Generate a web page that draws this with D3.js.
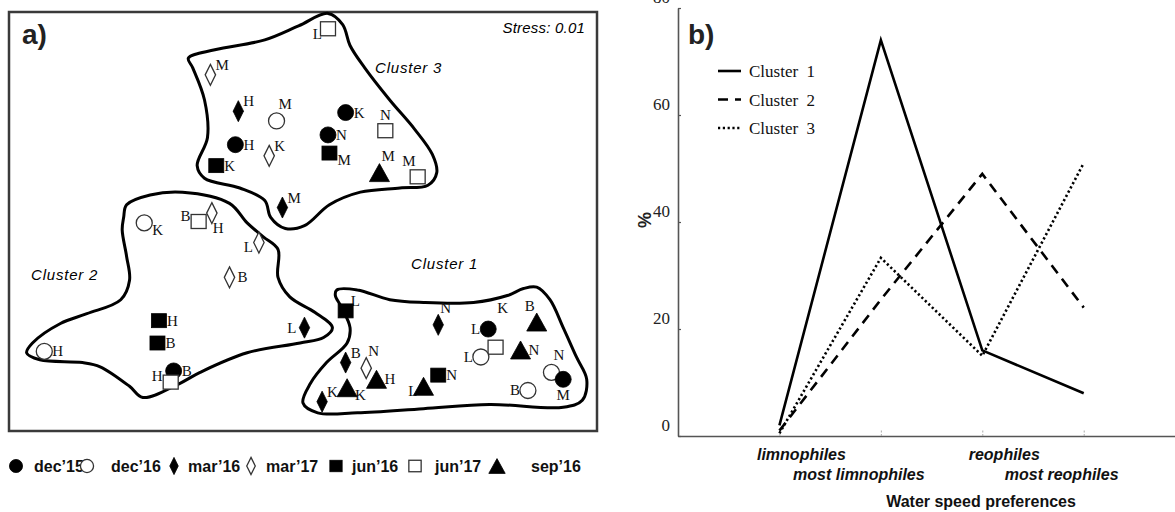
<!DOCTYPE html>
<html><head><meta charset="utf-8">
<script src="https://cdn.jsdelivr.net/npm/d3@7"></script>
<style>body{margin:0;background:#fff} svg{display:block}</style>
</head><body>
<svg id="chart" width="1175" height="512"></svg>
<script>
// ---------------- DATA: panel a (NMDS ordination) ----------------
const months = ["dec15","dec16","mar16","mar17","jun16","jun17","sep16"];
const monthLabels = ["dec’15","dec’16","mar’16","mar’17","jun’16","jun’17","sep’16"];
const sampleMonth = ["mar17","mar16","dec16","dec15","mar17","jun16","mar16","jun17","dec15","dec15","jun16","jun17","sep16","jun17",
  "dec16","jun17","mar17","mar17","mar17","jun16","jun16","dec16","dec15","jun17","mar16",
  "jun16","mar16","dec15","jun17","dec16","sep16","sep16","dec16","dec15","dec16","mar16","mar17","sep16","sep16","mar16","sep16","jun16"];
const sampleSite = ["M","H","M","H","K","K","M","L","K","N","M","N","M","M",
  "K","B","H","L","B","H","B","H","B","H","L",
  "L","N","L","K","L","B","N","N","M","B","B","N","H","K","K","L","N"];
const nmds1 = [-0.63,-0.44,-0.18,-0.46,-0.23,-0.59,-0.14,0.17,0.29,0.17,0.18,0.56,0.52,0.78,
  -1.08,-0.71,-0.62,-0.30,-0.50,-0.98,-0.99,-1.76,-0.88,-0.90,0.01,
  0.29,0.92,1.26,1.31,1.21,1.59,1.48,1.69,1.77,1.53,0.29,0.43,0.50,0.30,0.13,0.82,0.92];
const nmds2 = [1.05,0.79,0.72,0.55,0.47,0.40,0.10,1.38,0.78,0.62,0.49,0.65,0.35,0.32,
  -0.01,0.00,0.06,-0.15,-0.40,-0.71,-0.87,-0.93,-1.07,-1.15,-0.76,
  -0.64,-0.74,-0.77,-0.90,-0.97,-0.72,-0.92,-1.08,-1.13,-1.21,-1.01,-1.05,-1.13,-1.19,-1.29,-1.18,-1.10];
const labelSide = ["tr","tr","tt","r","tr","r","tr","bl","r","r","br","t","tt","tl",
  "br","lu","bs","bl","r","r","r","r","r","lu","l",
  "tr","tt","l","far","l","tl","r","tt","b","l","tr","tt","r","br","tr","bl","r"];
const cluster1Outline = [[0.23,-0.49],[0.37,-0.49],[0.59,-0.56],[0.82,-0.58],[1.16,-0.58],[1.39,-0.53],[1.50,-0.48],[1.59,-0.47],
  [1.68,-0.56],[1.77,-0.76],[1.86,-0.97],[1.93,-1.13],[1.90,-1.28],[1.77,-1.33],[1.27,-1.31],[0.82,-1.34],[0.37,-1.37],
  [0.10,-1.37],[0.00,-1.30],[0.05,-1.16],[0.16,-1.01],[0.30,-0.87],[0.32,-0.76],[0.26,-0.61],[0.22,-0.53]];
const cluster2Outline = [[-1.22,0.03],[-1.20,0.12],[-1.04,0.19],[-0.82,0.21],[-0.50,0.13],[-0.38,-0.01],[-0.27,-0.11],[-0.17,-0.20],
  [-0.17,-0.40],[-0.09,-0.54],[0.08,-0.65],[0.20,-0.76],[0.14,-0.83],[-0.02,-0.87],[-0.38,-0.94],[-0.70,-1.08],[-0.84,-1.16],
  [-1.09,-1.26],[-1.18,-1.18],[-1.38,-1.04],[-1.50,-1.01],[-1.79,-0.99],[-1.88,-0.94],[-1.84,-0.87],[-1.65,-0.73],[-1.47,-0.66],
  [-1.24,-0.56],[-1.18,-0.42],[-1.20,-0.25],[-1.23,-0.06]];
const cluster3Outline = [[0.17,1.49],[0.27,1.41],[0.32,1.26],[0.42,1.10],[0.59,0.87],[0.76,0.66],[0.88,0.48],[0.91,0.35],[0.85,0.26],
  [0.66,0.24],[0.39,0.21],[0.18,0.12],[0.01,-0.03],[-0.12,-0.05],[-0.22,0.03],[-0.26,0.15],[-0.43,0.24],[-0.67,0.31],[-0.72,0.40],
  [-0.65,0.60],[-0.67,0.87],[-0.75,1.10],[-0.78,1.17],[-0.60,1.23],[-0.26,1.30],[-0.03,1.40]];
const clusterNames = ["Cluster 1","Cluster 2","Cluster 3"];
const stressText = "Stress: 0.01";

// ---------------- DATA: panel b ----------------
const prefCategories = ["limnophiles","most limnophiles","reophiles","most reophiles"];
const cluster1Pct = [2, 74, 16, 8];
const cluster2Pct = [1, 25.5, 49, 24];
const cluster3Pct = [0.5, 33.3, 15, 51];
const yTicksB = [0, 20, 40, 60, 80];
const legendB = ["Cluster\u00a0\u00a01","Cluster\u00a0\u00a02","Cluster\u00a0\u00a03"];

// ---------------- DRAWING ----------------
const SANS = "'Liberation Sans', Arial, sans-serif";
const SERIF = "'Liberation Serif', 'Times New Roman', serif";
const svg = d3.select("#chart");
svg.append("rect").attr("width",1175).attr("height",512).attr("fill","#fff");

// ===== Panel a =====
const xA = d3.scaleLinear().domain([-2, 2]).range([9, 597]);
const yA = d3.scaleLinear().domain([-1.5, 1.5]).range([431, 12]);
const gA = svg.append("g");
gA.append("rect").attr("x", xA(-2)).attr("y", yA(1.5))
  .attr("width", xA(2)-xA(-2)).attr("height", yA(-1.5)-yA(1.5))
  .attr("fill","none").attr("stroke","#3a3a3a").attr("stroke-width",2.5);

const outline = d3.line().x(d=>xA(d[0])).y(d=>yA(d[1])).curve(d3.curveCatmullRomClosed.alpha(0.5));
[cluster1Outline, cluster2Outline, cluster3Outline].forEach(o=>{
  gA.append("path").attr("d", outline(o)).attr("fill","none").attr("stroke","#000").attr("stroke-width",3);
});

gA.append("text").attr("x",22).attr("y",44).text("a)")
  .attr("font-family",SANS).attr("font-weight","bold").attr("font-size",28).attr("fill","#222");
gA.append("text").attr("x",585).attr("y",33).attr("text-anchor","end").text(stressText)
  .attr("font-family",SANS).attr("font-style","italic").attr("font-size",15).attr("letter-spacing",0.2);
const namePos = [[411,269],[31,280],[375,73]];
clusterNames.forEach((n,i)=>{
  gA.append("text").attr("x",namePos[i][0]).attr("y",namePos[i][1]).text(n)
    .attr("font-family",SANS).attr("font-style","italic").attr("font-size",15).attr("letter-spacing",0.8);
});

const LABEL_OFFSETS = {
  r:[8,5,"start"], tr:[5,-5,"start"], tt:[2,-12,"start"], br:[8,12,"start"], bs:[1,20,"start"],
  t:[0,-11,"middle"], b:[0,21,"middle"], far:[7,-34,"middle"],
  tl:[-2,-11,"end"], l:[-8,5,"end"], lu:[-8,-1,"end"], bl:[-6,10,"end"]
};
const SYMBOL = {
  dec15:{shape:"circle",fill:true}, dec16:{shape:"circle",fill:false},
  mar16:{shape:"diamond",fill:true}, mar17:{shape:"diamond",fill:false},
  jun16:{shape:"square",fill:true}, jun17:{shape:"square",fill:false},
  sep16:{shape:"triangle",fill:true}
};
function drawSymbol(g, month, cx, cy, k){
  const s = SYMBOL[month];
  let el;
  if (s.shape==="circle") el = g.append("circle").attr("cx",cx).attr("cy",cy).attr("r",8*k);
  else if (s.shape==="diamond") el = g.append("path").attr("d",`M${cx},${cy-10.5*k}L${cx+5.2*k},${cy}L${cx},${cy+10.5*k}L${cx-5.2*k},${cy}Z`);
  else if (s.shape==="square") el = g.append("rect").attr("x",cx-7.5*k).attr("y",cy-7*k).attr("width",15*k).attr("height",14*k);
  else el = g.append("path").attr("d",`M${cx},${cy-9*k}L${cx+10*k},${cy+9*k}L${cx-10*k},${cy+9*k}Z`);
  if (s.fill) el.attr("fill","#000").attr("stroke","#000").attr("stroke-width",0.8);
  else el.attr("fill","#fff").attr("stroke","#333").attr("stroke-width",1.3);
}
// labels first, then symbols on top
sampleSite.forEach((lab,i)=>{
  const o = LABEL_OFFSETS[labelSide[i]];
  gA.append("text").attr("x", xA(nmds1[i])+o[0]).attr("y", yA(nmds2[i])+o[1])
    .attr("text-anchor", o[2]).text(lab)
    .attr("font-family",SERIF).attr("font-size",15).attr("fill","#111");
});
sampleMonth.forEach((m,i)=> drawSymbol(gA, m, xA(nmds1[i]), yA(nmds2[i]), 1));

// legend for panel a
const legSymX = [16, 87, 174, 251, 336, 415, 497];
const legTxtX = [34, 111, 188, 266, 352, 435, 531];
months.forEach((m,i)=>{
  drawSymbol(svg, m, legSymX[i], 466, 0.82);
  svg.append("text").attr("x",legTxtX[i]).attr("y",472).text(monthLabels[i])
    .attr("font-family",SANS).attr("font-weight","bold").attr("font-size",16).attr("fill","#111");
});

// ===== Panel b =====
const xB = d3.scaleLinear().domain([-1, 3.9]).range([678, 1175]);
const yB = d3.scaleLinear().domain([0, 80]).range([436, 8]);
const gB = svg.append("g");

// axes
const yAxis = d3.axisLeft(yB).tickValues(yTicksB).tickSize(-3).tickSizeOuter(0).tickPadding(8).tickFormat(d3.format("d"));
const ya = gB.append("g").attr("transform",`translate(${xB(-1)},0)`).call(yAxis);
ya.select(".domain").attr("stroke","#555").attr("stroke-width",1.6);
ya.selectAll(".tick line").attr("stroke","#555").attr("stroke-width",1.2);
ya.selectAll(".tick text").attr("dy",-5.5).attr("font-family",SERIF).attr("font-size",17).attr("fill","#222");

const xAxis = d3.axisBottom(xB).tickValues([0,1,2,3]).tickSize(-6).tickSizeOuter(0).tickFormat("");
const xa = gB.append("g").attr("transform",`translate(0,${yB(0)})`).call(xAxis);
xa.select(".domain").attr("stroke","#555").attr("stroke-width",1.6);
xa.selectAll(".tick line").attr("stroke","#aaa").attr("stroke-width",1).attr("stroke-dasharray","2,1.5");

// lines
const lineB = d3.line().x((d,i)=>xB(i)).y(d=>yB(d));
gB.append("path").attr("d",lineB(cluster1Pct)).attr("fill","none").attr("stroke","#000").attr("stroke-width",2.6);
gB.append("path").attr("d",lineB(cluster2Pct)).attr("fill","none").attr("stroke","#000").attr("stroke-width",2.6).attr("stroke-dasharray","10,7");
gB.append("path").attr("d",lineB(cluster3Pct)).attr("fill","none").attr("stroke","#000").attr("stroke-width",2.6).attr("stroke-dasharray","2.2,2.6");

// category labels (staggered)
prefCategories.forEach((c,i)=>{
  const even = i%2===0;
  gB.append("text").attr("x", xB(i) + (even?22:-22)).attr("y", even?460:480)
    .attr("text-anchor","middle").text(c)
    .attr("font-family",SANS).attr("font-weight","bold").attr("font-style","italic").attr("font-size",16).attr("fill","#111");
});
gB.append("text").attr("x",981).attr("y",507).attr("text-anchor","middle").text("Water speed preferences")
  .attr("font-family",SANS).attr("font-weight","bold").attr("font-size",16).attr("fill","#111");
gB.append("text").attr("transform","translate(651,220) rotate(-90)").attr("text-anchor","middle")
  .text("%").attr("font-family",SANS).attr("font-weight","bold").attr("font-size",18).attr("fill","#222");
gB.append("text").attr("x",688).attr("y",44).text("b)")
  .attr("font-family",SANS).attr("font-weight","bold").attr("font-size",28).attr("fill","#222");

// legend b
const dashes = [null, "10,7", "2.2,2.6"];
legendB.forEach((t,i)=>{
  const y = 71 + i*28.5;
  const ln = gB.append("line").attr("x1",718).attr("x2",741).attr("y1",y).attr("y2",y)
    .attr("stroke","#000").attr("stroke-width",2.6);
  if (dashes[i]) ln.attr("stroke-dasharray",dashes[i]);
  gB.append("text").attr("x",749).attr("y",y+6).text(t)
    .attr("font-family",SERIF).attr("font-size",17).attr("fill","#111");
});
</script>
</body></html>
